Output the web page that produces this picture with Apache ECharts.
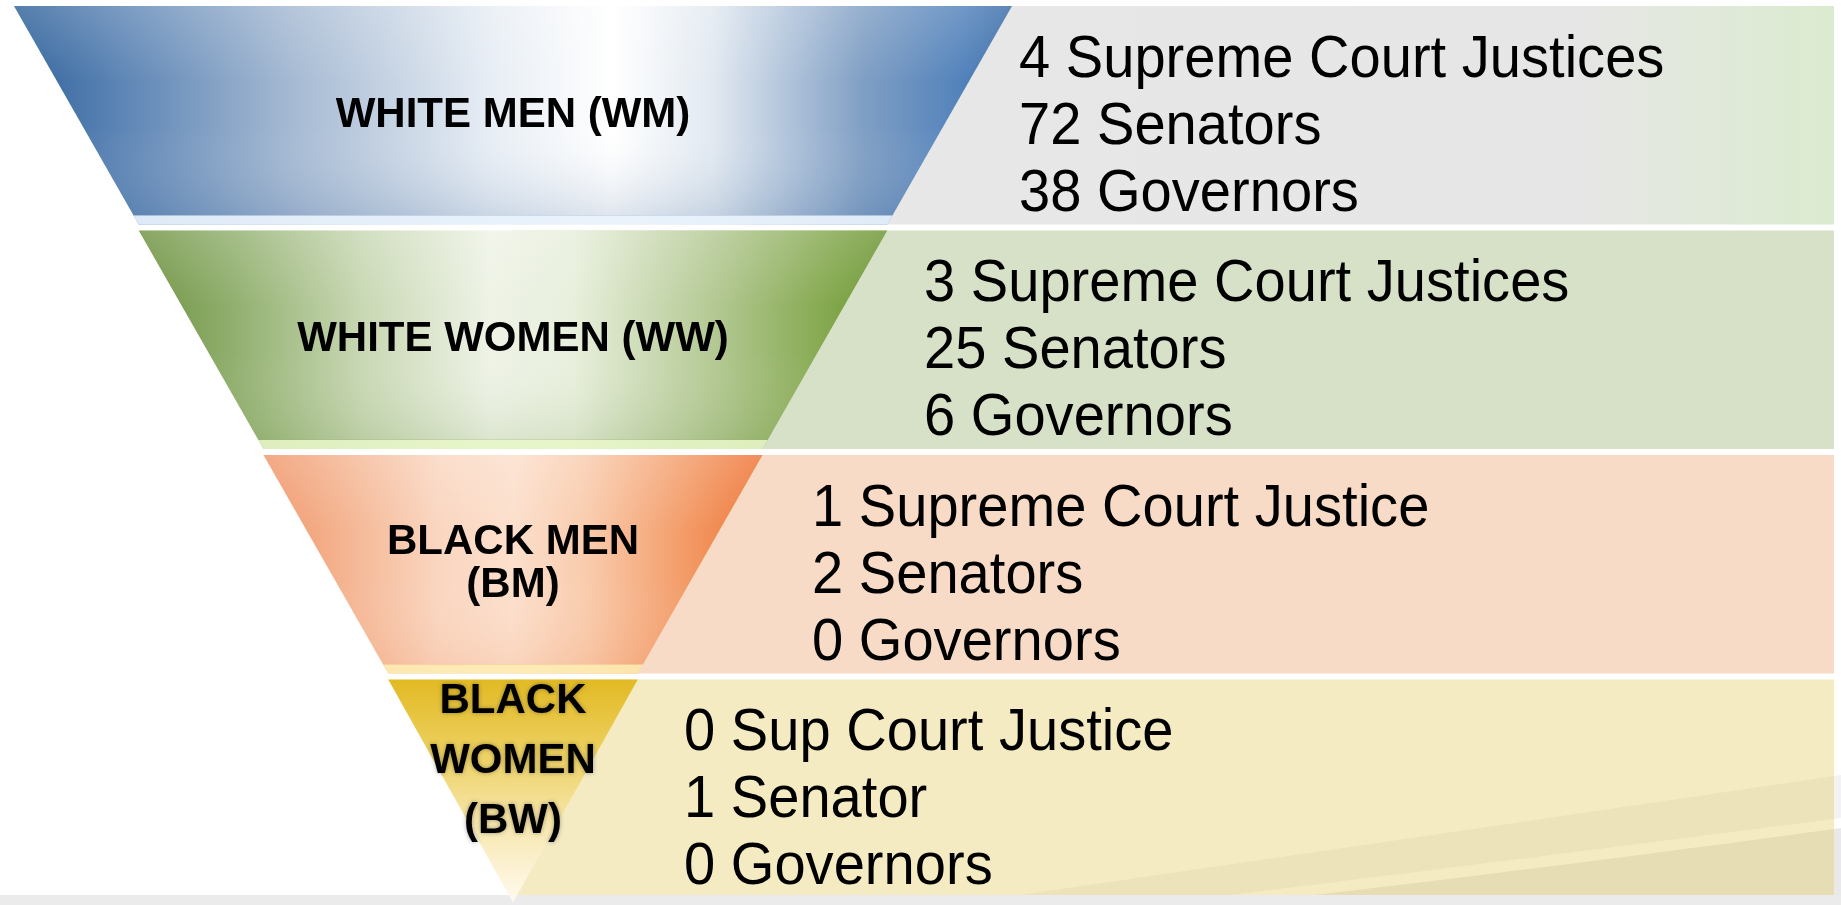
<!DOCTYPE html>
<html>
<head>
<meta charset="utf-8">
<title>Representation funnel</title>
<script src="https://cdn.jsdelivr.net/npm/echarts@6.0.0/dist/echarts.min.js"></script>
<style>
  html, body { margin: 0; padding: 0; background: #fff; }
  #main { width: 1841px; height: 905px; }
</style>
</head>
<body>
<div id="main"></div>
<script>
// groups from the wide top of the funnel down to the tip
const groups = ['WHITE MEN (WM)', 'WHITE WOMEN (WW)', 'BLACK MEN\n(BM)', 'BLACK\nWOMEN\n(BW)'];
const levels = [4, 3, 2, 1];
const justiceLines = ['4 Supreme Court Justices', '3 Supreme Court Justices', '1 Supreme Court Justice', '0 Sup Court Justice'];
const senatorLines = ['72 Senators', '25 Senators', '2 Senators', '1 Senator'];
const governorLines = ['38 Governors', '6 Governors', '0 Governors', '0 Governors'];

const myChart = echarts.init(document.getElementById('main'));

// funnel frame
const funLeft = 14, funTop = 6, funWidth = 998, funHeight = 892, funGap = 6;
const layerH = (funHeight - funGap * (levels.length - 1)) / levels.length;
const tipH = 223;   // the last layer runs a little longer, down to the tip
const midX = funLeft + funWidth / 2;
const panelRight = 1834;
const textLeft = [1019, 924, 812, 684];
const lineStep = 67;

function grad(x, y, x2, y2, stops) {
  return {
    type: 'linear', x: x, y: y, x2: x2, y2: y2,
    colorStops: stops.map(function (s) { return {offset: s[0], color: s[1]}; })
  };
}

const layerFills = [
  grad(0, 0, 1, 0, [[0, '#30629b'], [0.1, '#5a83b4'], [0.28, '#a6bad3'], [0.48, '#e8eef5'], [0.6, '#ffffff'],
    [0.7, '#e2e9f1'], [0.85, '#809fc4'], [0.95, '#5282bb'], [1, '#3a6ca7']]),
  grad(0, 0, 1, 0, [[0, '#6f9342'], [0.12, '#8fae6c'], [0.3, '#c9d8b4'], [0.47, '#eef3e6'], [0.58, '#e8efdc'],
    [0.78, '#b0c68e'], [0.92, '#84a84e'], [1, '#6b9632']]),
  grad(0, 0, 1, 0, [[0, '#f0976a'], [0.15, '#f4b28e'], [0.35, '#fad6c0'], [0.5, '#fcdfcc'], [0.65, '#f9cbac'],
    [0.85, '#f39a66'], [1, '#ee7434']]),
  grad(0, 0, 0, 1, [[0, '#e2ba24'], [0.3, '#ecce5a'], [0.65, '#f7e7ae'], [1, '#fffaf0']])
];

// top sheen, slight shade lower down and a light bevel at the bottom of each layer
function rim(shade, color) {
  return grad(0, 0, 0, 1, [[0, 'rgba(255,255,255,0.18)'], [0.35, 'rgba(255,255,255,0)'], [0.55, 'rgba(255,255,255,0)'],
    [0.955, shade], [0.96, color], [1, color]]);
}
const rimFills = [
  rim('rgba(60,100,150,0.16)', 'rgba(232,242,252,0.92)'),
  rim('rgba(90,130,50,0.12)', 'rgba(230,245,198,0.88)'),
  rim('rgba(230,120,60,0.10)', 'rgba(253,236,178,0.88)'),
  'rgba(255,255,255,0)'
];

const panelFills = [
  grad(0, 0, 1, 0, [[0, '#e8e8e8'], [0.8, '#e6e6e6'], [1, '#dbebcf']]),
  '#d6e1c8',
  '#f7dbc6',
  'rgba(224,199,88,0.36)'
];

// decorative swoosh under the last panel: quadratic curve closed down to the bottom edge
function swoosh(p0, c, p1) {
  const pts = [];
  for (let t = 0; t <= 1.0001; t += 0.05) {
    const u = 1 - t;
    pts.push([u * u * p0[0] + 2 * u * t * c[0] + t * t * p1[0], u * u * p0[1] + 2 * u * t * c[1] + t * t * p1[1]]);
  }
  pts.push([p1[0], 905]);
  return pts;
}

const graphics = [];
graphics.push({type: 'polygon', z: 0, shape: {points: swoosh([950, 905], [1400, 840], [1841, 775])}, style: {fill: '#f3f3f3'}});
graphics.push({type: 'polygon', z: 0, shape: {points: swoosh([1150, 905], [1500, 862], [1841, 818])}, style: {fill: '#ffffff'}});
graphics.push({type: 'polygon', z: 0, shape: {points: swoosh([1230, 905], [1550, 868], [1841, 828])}, style: {fill: '#e9e9e9'}});
graphics.push({type: 'rect', z: 0, shape: {x: 0, y: 895, width: 1841, height: 10}, style: {fill: '#ebebeb'}});

for (let i = 0; i < groups.length; i++) {
  const top = funTop + i * (layerH + funGap);
  const h = Math.min(top + layerH, 895) - top;
  graphics.push({
    type: 'rect', z: 1,
    shape: {x: midX, y: top, width: panelRight - midX, height: h},
    style: {fill: panelFills[i]}
  });
  const lines = [justiceLines[i], senatorLines[i], governorLines[i]];
  const mid = top + layerH / 2 + 12;
  for (let k = 0; k < lines.length; k++) {
    // slightly condensed lettering like the original slide
    graphics.push({
      type: 'text', z: 10,
      x: textLeft[i], y: mid + (k - 1) * lineStep,
      scaleX: 0.935,
      style: {
        text: lines[k], x: 0, y: 0,
        fontSize: 60, fontFamily: '"Liberation Sans", Arial, sans-serif',
        fill: '#000', verticalAlign: 'middle', align: 'left'
      }
    });
  }
}

const labelExtra = [
  {},
  {},
  {lineHeight: 43},
  // trailing empty line lifts the three lines up into the wide part of the tip
  {lineHeight: 60, formatter: '{b}\n', textShadowColor: 'rgba(0,0,0,0.35)', textShadowBlur: 4}
];

function funnelSeries(z, withLabels, fills) {
  return {
    type: 'funnel',
    z: z,
    silent: !withLabels,
    left: funLeft, top: funTop, width: funWidth, height: funHeight,
    min: 0, max: 4, minSize: '0%', maxSize: '100%',
    sort: 'descending', gap: funGap, funnelAlign: 'center',
    label: {
      show: withLabels, position: 'inside', color: '#000',
      fontSize: 42, fontWeight: 'bold', fontFamily: '"Liberation Sans", Arial, sans-serif'
    },
    labelLine: {show: false},
    itemStyle: {borderWidth: 0},
    emphasis: {disabled: true},
    data: groups.map(function (g, i) {
      const item = {name: g, value: levels[i], itemStyle: {color: fills[i]}};
      if (i === groups.length - 1) item.itemStyle.height = tipH;
      if (withLabels) item.label = labelExtra[i];
      return item;
    })
  };
}

const option = {
  backgroundColor: '#ffffff',
  animation: false,
  graphic: graphics,
  series: [
    funnelSeries(2, true, layerFills),
    funnelSeries(3, false, rimFills)
  ]
};

myChart.setOption(option);
window.onresize = function () {
  myChart.resize();
};
</script>
</body>
</html>
